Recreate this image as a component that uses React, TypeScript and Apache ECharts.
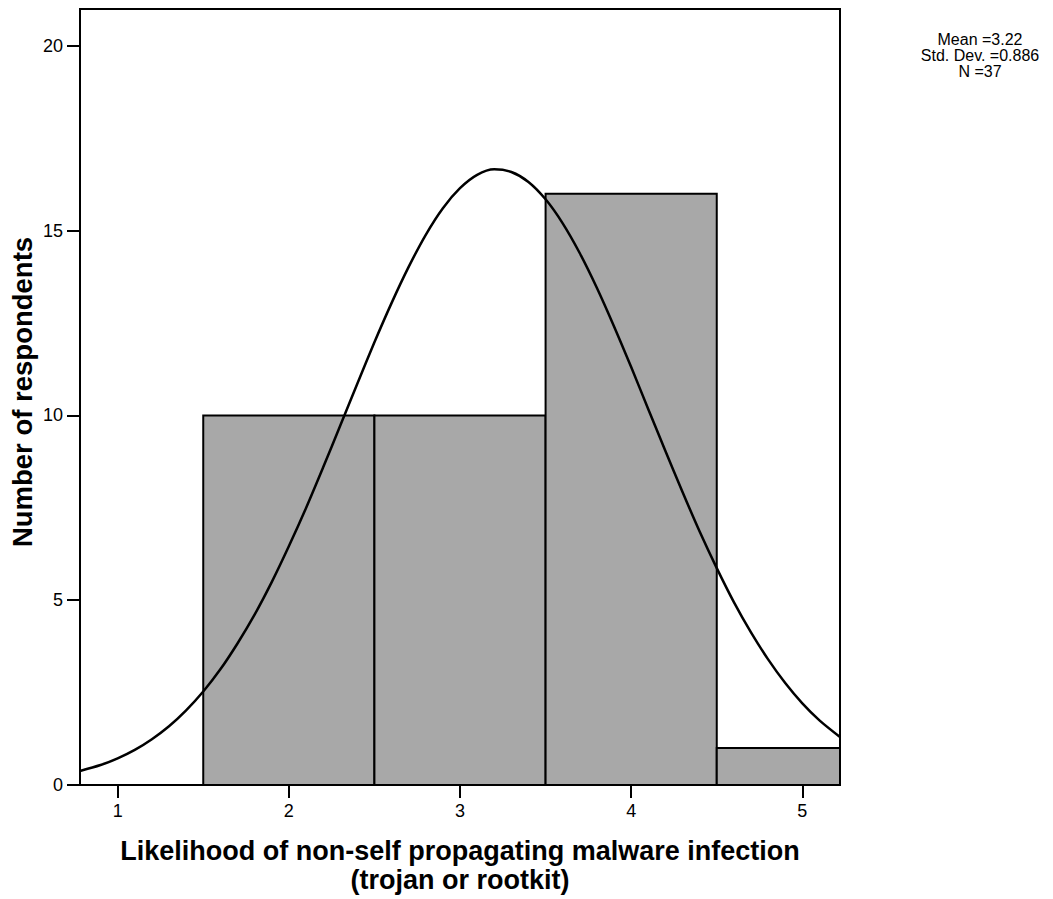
import React, { useEffect, useRef } from "react";
import * as echarts from "echarts";

// Histogram bins: [left edge, right edge, count]
const binStarts = [0.5, 1.5, 2.5, 3.5, 4.5];
const binEnds = [1.5, 2.5, 3.5, 4.5, 5.5];
const binCounts = [0, 10, 10, 16, 1];

// Normal curve points
const curveX = [0.78, 0.9, 1.0, 1.1, 1.2, 1.3, 1.4, 1.5, 1.6, 1.7, 1.8, 1.9, 2.0, 2.1, 2.2, 2.3, 2.4, 2.5, 2.6, 2.7, 2.8, 2.9, 3.0, 3.1, 3.2, 3.3, 3.4, 3.5, 3.6, 3.7, 3.8, 3.9, 4.0, 4.1, 4.2, 4.3, 4.4, 4.5, 4.6, 4.7, 4.8, 4.9, 5.0, 5.1, 5.22];
const curveY = [0.38, 0.54, 0.72, 0.95, 1.24, 1.59, 2.02, 2.53, 3.13, 3.83, 4.61, 5.49, 6.46, 7.49, 8.59, 9.72, 10.86, 11.98, 13.04, 14.02, 14.89, 15.61, 16.15, 16.51, 16.66, 16.59, 16.32, 15.85, 15.2, 14.39, 13.45, 12.41, 11.31, 10.17, 9.04, 7.93, 6.86, 5.87, 4.95, 4.13, 3.4, 2.76, 2.21, 1.75, 1.3];

const xTicks = [1, 2, 3, 4, 5];
const yTicks = [0, 5, 10, 15, 20];
const statsLines = ["Mean =3.22", "Std. Dev. =0.886", "N =37"];
const xTitle = ["Likelihood of non-self propagating malware infection", "(trojan or rootkit)"];
const yTitle = "Number of respondents";

export default function App() {
  const ref = useRef<HTMLDivElement>(null);
  useEffect(() => {
    document.body.style.margin = "0";
    const chart = echarts.init(ref.current!, null, { renderer: "svg" });
    const barData = binStarts.map((s, i) => [s, binEnds[i], binCounts[i]]);
    const curveData = curveX.map((x, i) => [x, curveY[i]]);
    chart.setOption({
      animation: false,
      backgroundColor: "#ffffff",
      grid: {
        left: 80,
        top: 9,
        width: 760,
        height: 776,
        show: true,
        borderColor: "#000",
        borderWidth: 2,
        backgroundColor: "transparent",
      },
      xAxis: {
        type: "value",
        min: 0.78,
        max: 5.22,
        axisLine: { show: true, onZero: false, lineStyle: { color: "#000", width: 2 } },
        axisTick: { show: true, length: 13, customValues: xTicks, lineStyle: { color: "#000", width: 2 } },
        axisLabel: {
          customValues: xTicks,
          margin: 17,
          color: "#000",
          fontSize: 18,
          fontFamily: "Liberation Sans, Arial, sans-serif",
        },
        splitLine: { show: false },
      },
      yAxis: {
        type: "value",
        min: 0,
        max: 21,
        axisLine: { show: true, lineStyle: { color: "#000", width: 2 } },
        axisTick: { show: true, length: 13, customValues: yTicks, lineStyle: { color: "#000", width: 2 } },
        axisLabel: {
          customValues: yTicks,
          margin: 17,
          color: "#000",
          fontSize: 18,
          fontFamily: "Liberation Sans, Arial, sans-serif",
        },
        splitLine: { show: false },
      },
      series: [
        {
          type: "custom",
          data: barData,
          clip: true,
          renderItem: (params: any, api: any) => {
            const x0 = api.value(0);
            const x1 = api.value(1);
            const v = api.value(2);
            if (!v) return null;
            const p0 = api.coord([x0, v]);
            const p1 = api.coord([x1, 0]);
            const rect = echarts.graphic.clipRectByRect(
              { x: p0[0], y: p0[1], width: p1[0] - p0[0], height: p1[1] - p0[1] },
              {
                x: params.coordSys.x,
                y: params.coordSys.y,
                width: params.coordSys.width,
                height: params.coordSys.height,
              }
            );
            if (!rect) return null;
            return {
              type: "rect",
              shape: rect,
              style: { fill: "#a8a8a8", stroke: "#000", lineWidth: 2 },
            };
          },
          z: 2,
        },
        {
          type: "line",
          data: curveData,
          smooth: 0.3,
          showSymbol: false,
          symbol: "none",
          lineStyle: { color: "#000", width: 2.5 },
          z: 3,
        },
      ],
      graphic: [
        {
          type: "text",
          x: 980,
          y: 55,
          style: {
            text: statsLines.join("\n"),
            align: "center",
            verticalAlign: "middle",
            lineHeight: 16,
            font: "16px 'Liberation Sans', Arial, sans-serif",
            fill: "#000",
          },
        },
        {
          type: "text",
          x: 460,
          y: 851,
          style: {
            text: xTitle[0],
            align: "center",
            verticalAlign: "middle",
            font: "bold 27px 'Liberation Sans', Arial, sans-serif",
            fill: "#000",
          },
        },
        {
          type: "text",
          x: 460,
          y: 880,
          style: {
            text: xTitle[1],
            align: "center",
            verticalAlign: "middle",
            font: "bold 27px 'Liberation Sans', Arial, sans-serif",
            fill: "#000",
          },
        },
        {
          type: "text",
          x: 22,
          y: 392,
          rotation: Math.PI / 2,
          style: {
            text: yTitle,
            align: "center",
            verticalAlign: "middle",
            font: "bold 27.5px 'Liberation Sans', Arial, sans-serif",
            fill: "#000",
          },
        },
      ],
    });
    return () => chart.dispose();
  }, []);
  return <div ref={ref} style={{ width: 1053, height: 899 }} />;
}
